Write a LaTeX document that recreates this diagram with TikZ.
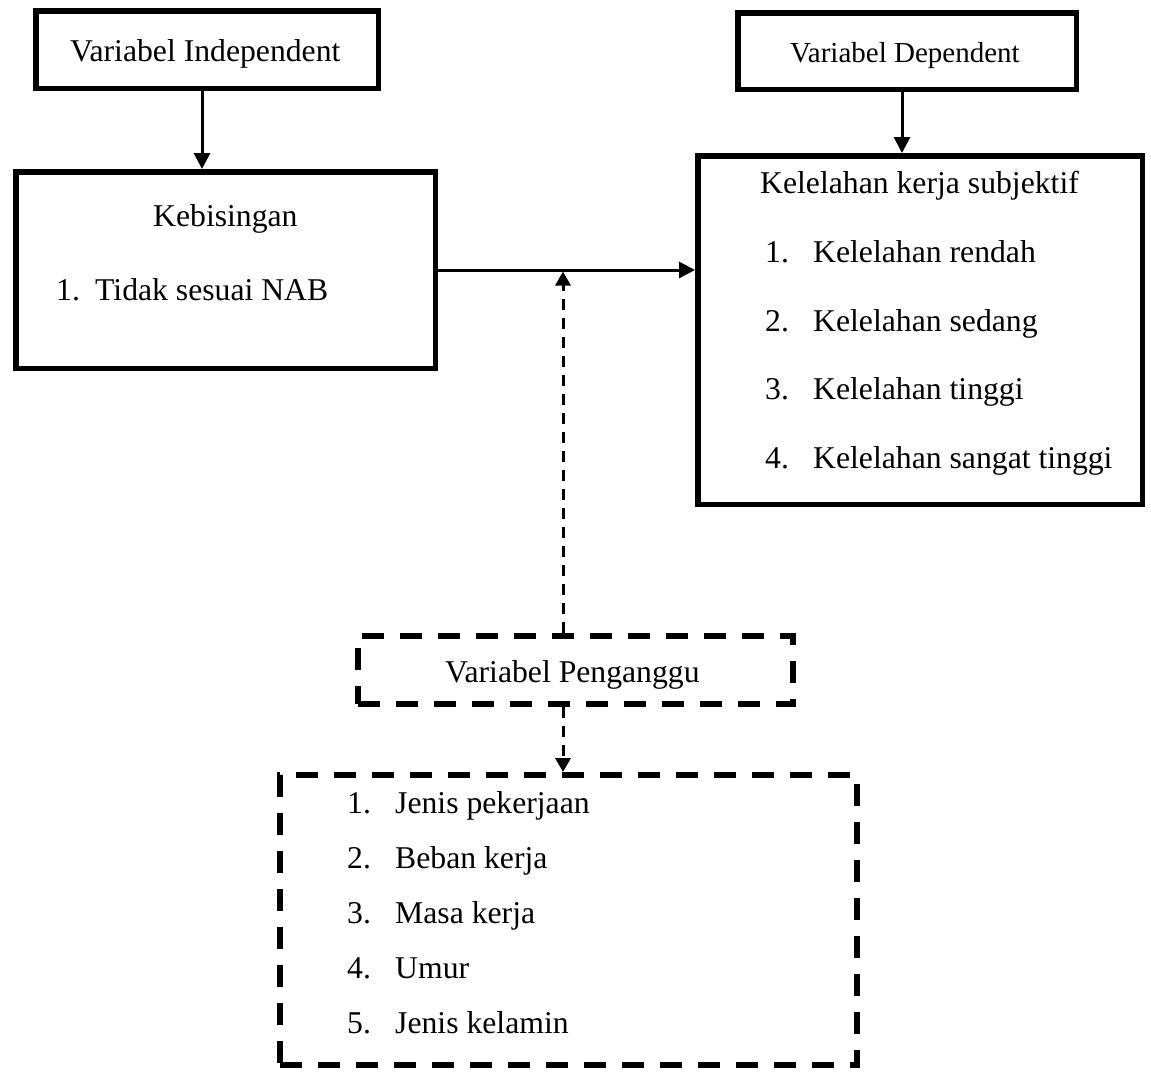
\documentclass[tikz,border=0pt]{standalone}
\usepackage{fontspec}
\setmainfont{Liberation Serif}
\usetikzlibrary{arrows.meta}
\begin{document}
\begin{tikzpicture}[x=1pt,y=-1pt,
  solidbox/.style={draw,line width=5.5pt,inner sep=0pt},
  dashbox/.style={draw,line width=6pt,dash pattern=on 22pt off 16pt,inner sep=0pt},
  txt/.style={anchor=base west,inner sep=0pt,font=\fontsize{31.7pt}{38pt}\selectfont},
  smalltxt/.style={anchor=base west,inner sep=0pt,font=\fontsize{29pt}{35pt}\selectfont},
  arr/.style={line width=3pt,-{Triangle[length=16pt,width=16pt]}},
  darr/.style={line width=3pt,dash pattern=on 11pt off 8pt,-{Triangle[length=14pt,width=15pt]}}]
\fill[white] (0,0) rectangle (1151,1072);
\path[use as bounding box] (0,0) rectangle (1151,1072);

% boxes
\node[solidbox,minimum width=342.5pt,minimum height=77.5pt] (A) at (207,49.5) {};
\node[solidbox,minimum width=419.5pt,minimum height=196.5pt] (B) at (225.5,270) {};
\node[solidbox,minimum width=338.5pt,minimum height=76.5pt] (C) at (907,51) {};
\node[solidbox,minimum width=444.5pt,minimum height=348.5pt] (D) at (920,330) {};
\node[dashbox,minimum width=435pt,minimum height=68pt] (P) at (575.5,670) {};
\node[dashbox,minimum width=577pt,minimum height=290pt] (L) at (568.5,920) {};

% texts
\node[txt] (tA) at (70,61) {Variabel Independent};
\node[smalltxt] (tC) at (790,62) {Variabel Dependent};
\node[txt] (tB) at (153,226) {Kebisingan};
\node[txt] (tB1n) at (56,300) {1.};
\node[txt] (tB1) at (95,300) {Tidak sesuai NAB};
\node[txt] (tD) at (760,193) {Kelelahan kerja subjektif};
\node[txt] (tD1n) at (765,262) {1.};
\node[txt] (tD1) at (813,262) {Kelelahan rendah};
\node[txt] (tD2n) at (765,331) {2.};
\node[txt] (tD2) at (813,331) {Kelelahan sedang};
\node[txt] (tD3n) at (765,399) {3.};
\node[txt] (tD3) at (813,399) {Kelelahan tinggi};
\node[txt] (tD4n) at (765,468) {4.};
\node[txt] (tD4) at (813,468) {Kelelahan sangat tinggi};
\node[txt] (tP) at (445,682) {Variabel Penganggu};
\node[txt] (tL1n) at (347,813) {1.};
\node[txt] (tL1) at (395,813) {Jenis pekerjaan};
\node[txt] (tL2n) at (347,868) {2.};
\node[txt] (tL2) at (395,868) {Beban kerja};
\node[txt] (tL3n) at (347,923) {3.};
\node[txt] (tL3) at (395,923) {Masa kerja};
\node[txt] (tL4n) at (347,978) {4.};
\node[txt] (tL4) at (395,978) {Umur};
\node[txt] (tL5n) at (347,1033) {5.};
\node[txt] (tL5) at (395,1033) {Jenis kelamin};

% connectors
\coordinate (ax) at (202,0);
\coordinate (cx) at (902,0);
\coordinate (ux) at (563,0);
\draw[arr] (A.south -| ax) -- (B.north -| ax);
\draw[arr] (C.south -| cx) -- (D.north -| cx);
\draw[arr] (B.east) -- (B.east -| D.west);
\draw[darr,shorten >=1.5pt] (P.north -| ux) -- (B.east -| ux);
\draw[darr] (P.south -| ux) -- (L.north -| ux);
\end{tikzpicture}
\end{document}
